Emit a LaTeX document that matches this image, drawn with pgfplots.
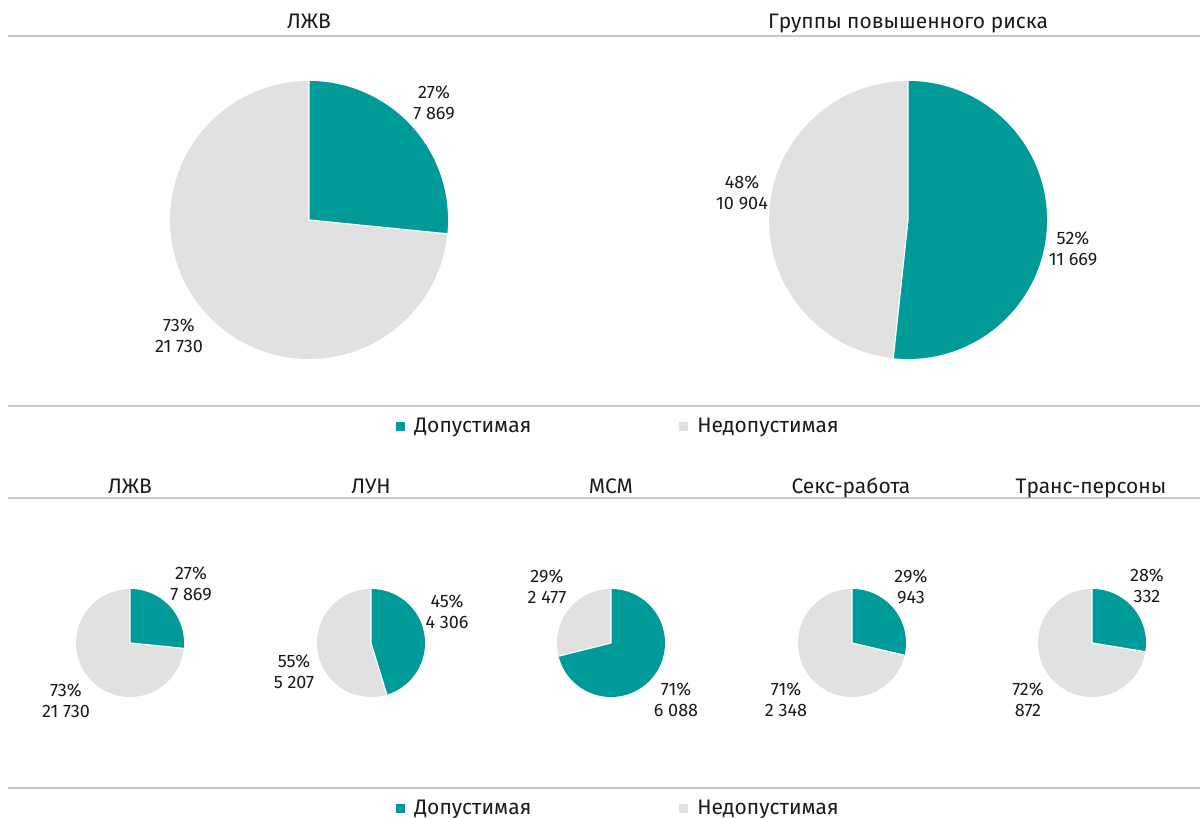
\documentclass[border=0pt]{standalone}
\usepackage{fontspec}
\setmainfont{Fira Sans}
\usepackage{pgfplots}
\pgfplotsset{compat=1.18}

\definecolor{dop}{HTML}{009B98}
\definecolor{nedop}{HTML}{E1E1E1}
\definecolor{sep}{HTML}{C8C8C8}
\definecolor{txt}{HTML}{1A1A1A}

% pie: #1 x, #2 y (pixels from top), #3 radius (px), #4 Допустимая, #5 Недопустимая
\newcommand\pie[5]{%
  \fill[nedop] (axis cs:#1,\fpeval{818-#2}) circle[radius=#3*0.5pt];
  \fill[dop] (axis cs:#1,\fpeval{818-#2}) -- ++(90:#3*0.5pt)
    arc[start angle=90, end angle=\fpeval{90-360*#4/(#4+#5)}, radius=#3*0.5pt] -- cycle;
  \draw[white, line width=0.6pt] (axis cs:#1,\fpeval{818-#2}) ++(\fpeval{90-360*#4/(#4+#5)}:#3*0.5pt)
    -- (axis cs:#1,\fpeval{818-#2}) -- ++(90:#3*0.5pt);
}
% label: #1 x, #2 y (px from top), #3 text
\newcommand\lab[3]{\node[lbl] at (axis cs:#1,\fpeval{818-#2}) {#3};}
\newcommand\ttl[2]{\node[ttl] at (axis cs:#1,\fpeval{818-#2}) {#2};}

\begin{document}
\begin{tikzpicture}[
  lbl/.style={align=center, inner sep=0pt, text=txt, font=\fontsize{9}{10.6}\selectfont},
  ttlnode/.style={anchor=base, inner sep=0pt, text=txt, font=\fontsize{10.5}{12}\selectfont},
  leg/.style={anchor=base west, inner sep=0pt, text=txt, font=\fontsize{10.5}{12}\selectfont}]
\begin{axis}[x=0.5pt, y=0.5pt, xmin=0, xmax=1200, ymin=0, ymax=818,
  hide axis, clip=false, anchor=origin, at={(0,0)}]

% separator lines
\draw[sep, line width=0.6pt] (axis cs:8,782) -- (axis cs:1200,782);
\draw[sep, line width=0.6pt] (axis cs:8,412) -- (axis cs:1200,412);
\draw[sep, line width=0.6pt] (axis cs:8,320) -- (axis cs:1200,320);
\draw[sep, line width=0.6pt] (axis cs:8,30) -- (axis cs:1200,30);

% titles
\node[ttlnode] at (axis cs:309,789) {ЛЖВ};
\node[ttlnode] at (axis cs:908,789) {Группы повышенного риска};
\node[ttlnode] at (axis cs:130,324) {ЛЖВ};
\node[ttlnode] at (axis cs:371,324) {ЛУН};
\node[ttlnode] at (axis cs:611,324) {МСМ};
\node[ttlnode] at (axis cs:851,324) {Секс-работа};
\node[ttlnode] at (axis cs:1091,324) {Транс-персоны};

% big pies
\pie{309}{220}{139}{7869}{21730}
\pie{908}{220}{139}{11669}{10904}
\lab{434}{103}{27\%\\7 869}
\lab{179}{336}{73\%\\21 730}
\lab{742}{193}{48\%\\10 904}
\lab{1073}{249}{52\%\\11 669}

% small pies
\pie{130}{643}{54}{7869}{21730}
\pie{371}{643}{54}{4306}{5207}
\pie{611}{643}{54}{6088}{2477}
\pie{852}{643}{54}{943}{2348}
\pie{1092}{643}{54}{332}{872}
\lab{191}{584}{27\%\\7 869}
\lab{66}{701}{73\%\\21 730}
\lab{447}{612}{45\%\\4 306}
\lab{294}{672}{55\%\\5 207}
\lab{547}{587}{29\%\\2 477}
\lab{676}{700}{71\%\\6 088}
\lab{911}{587}{29\%\\943}
\lab{786}{700}{71\%\\2 348}
\lab{1147}{586}{28\%\\332}
\lab{1028}{700}{72\%\\872}

% legends
\fill[dop] (axis cs:396,387) rectangle (axis cs:405,396);
\node[leg] at (axis cs:414,385) {Допустимая};
\fill[nedop] (axis cs:679,387) rectangle (axis cs:688,396);
\node[leg] at (axis cs:697,385) {Недопустимая};
\fill[dop] (axis cs:396,5) rectangle (axis cs:405,14);
\node[leg] at (axis cs:414,3) {Допустимая};
\fill[nedop] (axis cs:679,5) rectangle (axis cs:688,14);
\node[leg] at (axis cs:697,3) {Недопустимая};
\end{axis}
\pgfresetboundingbox
\useasboundingbox (0,0) rectangle (600pt,409pt);
\end{tikzpicture}
\end{document}
